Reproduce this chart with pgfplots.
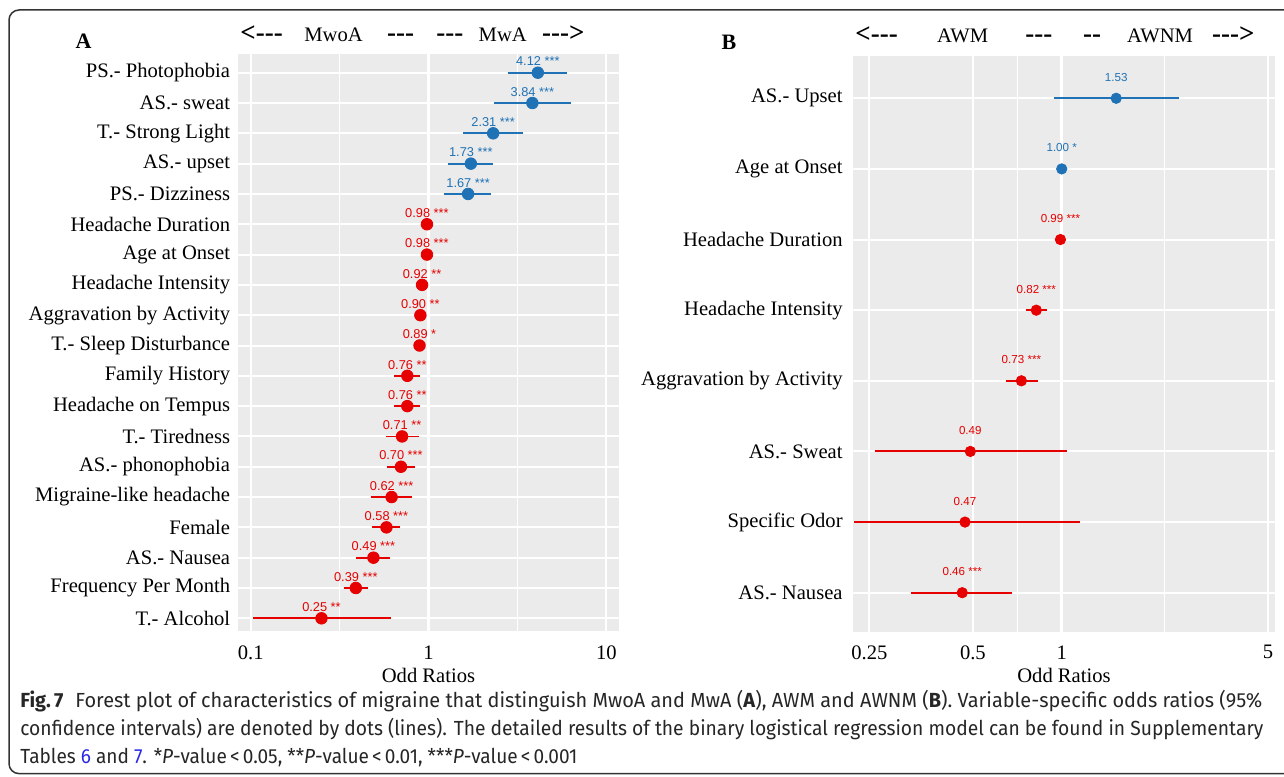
\documentclass[border=0pt]{standalone}
\usepackage{fontspec}
\setmainfont{Liberation Serif}
\setsansfont{Liberation Sans}
\newfontfamily\capfont{Fira Sans}
\usepackage{pgfplots}
\pgfplotsset{compat=1.18}
\usepackage{pgfplotstable}
\usepackage{graphicx}

\definecolor{ggbg}{HTML}{EBEBEB}
\definecolor{orblue}{RGB}{31,114,181}
\definecolor{orred}{RGB}{230,0,0}
\definecolor{linkblue}{RGB}{40,40,230}

\newcommand\tickfont{\fontsize{10.3}{12}\selectfont}
\newcommand\arr{\fontsize{13.5}{14}\selectfont\bfseries}
\newcommand\dsh{-\kern0pt-\kern0pt-}

\newlength\fitw
\newcommand\fitline[2]{\settowidth{\fitw}{#2}\pgfmathsetmacro\fitr{#1/\fitw}\scalebox{\fitr}[1]{#2}}

% panel A: MwoA vs MwA (odds ratio and label)
\pgfplotstableread{
row or lab
19 4.12 {4.12 ***}
18 3.84 {3.84 ***}
17 2.31 {2.31 ***}
16 1.73 {1.73 ***}
15 1.67 {1.67 ***}
}\tabAblue
\pgfplotstableread{
row or lab
14 0.98 {0.98 ***}
13 0.98 {0.98 ***}
12 0.92 {0.92 **}
11 0.90 {0.90 **}
10 0.89 {0.89 *}
9 0.76 {0.76 **}
8 0.76 {0.76 **}
7 0.71 {0.71 **}
6 0.70 {0.70 ***}
5 0.62 {0.62 ***}
4 0.58 {0.58 ***}
3 0.49 {0.49 ***}
2 0.39 {0.39 ***}
1 0.25 {0.25 **}
}\tabAred
% 95% CI segments (lower, upper) per row
\pgfplotstableread{
x y
2.80 19
5.99 19
nan nan
2.33 18
6.31 18
nan nan
1.555 17
3.42 17
nan nan
1.285 16
2.30 16
nan nan
1.23 15
2.24 15
}\ciAblue
\pgfplotstableread{
x y
0.97 14
0.99 14
nan nan
0.97 13
0.99 13
nan nan
0.88 12
0.96 12
nan nan
0.86 11
0.94 11
nan nan
0.83 10
0.96 10
nan nan
0.64 9
0.90 9
nan nan
0.64 8
0.90 8
nan nan
0.575 7
0.886 7
nan nan
0.585 6
0.84 6
nan nan
0.477 5
0.805 5
nan nan
0.482 4
0.695 4
nan nan
0.393 3
0.611 3
nan nan
0.333 2
0.457 2
nan nan
0.103 1
0.619 1
}\ciAred

% panel B: AWM vs AWNM
\pgfplotstableread{
row or lab
8 1.53 {1.53}
7 1.00 {1.00 *}
}\tabBblue
\pgfplotstableread{
row or lab
6 0.99 {0.99 ***}
5 0.82 {0.82 ***}
4 0.73 {0.73 ***}
3 0.49 {0.49}
2 0.47 {0.47}
1 0.46 {0.46 ***}
}\tabBred
\pgfplotstableread{
x y
0.94 8
2.49 8
nan nan
0.995 7
1.005 7
}\ciBblue
\pgfplotstableread{
x y
0.985 6
0.995 6
nan nan
0.755 5
0.894 5
nan nan
0.648 4
0.83 4
nan nan
0.197 2
1.15 2
nan nan
0.308 1
0.679 1
}\ciBred
\pgfplotstableread{
x y
0.233 3
0.49 3
1.04 3
}\ciBsweat

\begin{document}
\begin{tikzpicture}
\path[use as bounding box] (0,0) rectangle (642pt,388pt);

% frame
\draw[line width=0.75pt, rounded corners=5pt, black!80] (4.5pt,1.2pt) rectangle (660pt,383pt);

% panel letters
\node[font=\fontsize{11}{13}\selectfont\bfseries] at (41.75pt,367.5pt) {A};
\node[font=\fontsize{11}{13}\selectfont\bfseries] at (364.5pt,367pt) {B};

% direction headers
\begin{scope}[every node/.style={anchor=base west, inner sep=0pt}]
\node at (120pt,367.15pt) {\arr <\dsh};
\node at (152pt,367.15pt) {\tickfont MwoA};
\node at (193.35pt,367.15pt) {\arr \dsh};
\node at (218pt,367.15pt) {\arr \dsh};
\node at (239.15pt,367.15pt) {\tickfont MwA};
\node at (270.85pt,367.15pt) {\arr \dsh>};
\node at (427.5pt,366.85pt) {\arr <\dsh};
\node at (468.35pt,366.85pt) {\tickfont AWM};
\node at (512.5pt,366.85pt) {\arr \dsh};
\node at (541.35pt,366.85pt) {\arr -\kern0pt-};
\node at (563.35pt,366.85pt) {\tickfont AWNM};
\node at (605.85pt,366.85pt) {\arr \dsh>};
\end{scope}

\begin{axis}[
  at={(119pt,72.65pt)}, anchor=south west,
  scale only axis, width=190.5pt, height=288.35pt,
  xmode=log,
  xmin=0.0848, xmax=11.79, ymin=0.591, ymax=19.617,
  axis background/.style={fill=ggbg},
  axis line style={draw=none},
  major tick length=0pt, minor tick length=0pt,
  grid=both,
  major grid style={white, line width=1pt},
  minor grid style={white, line width=0.5pt},
  xtick={0.1,1,10}, xticklabels={0.1,1,10}, minor xtick={0.31623,3.1623},
  ytick={1,...,19}, minor ytick={},
  yticklabels={T.- Alcohol, Frequency Per Month, AS.- Nausea, Female,
    Migraine-like headache, AS.- phonophobia, T.- Tiredness, Headache on Tempus,
    Family History, T.- Sleep Disturbance, Aggravation by Activity,
    Headache Intensity, Age at Onset, Headache Duration, PS.- Dizziness,
    AS.- upset, T.- Strong Light, AS.- sweat, PS.- Photophobia},
  tick label style={font=\tickfont},
  xticklabel style={inner sep=0pt, anchor=north, yshift=-7.5pt},
  yticklabel style={inner sep=0pt, anchor=east, xshift=-3.75pt},
  xlabel={Odd Ratios},
  xlabel style={at={(axis description cs:0.5,0)}, anchor=center, yshift=-22.2pt, font=\tickfont},
  every node near coord/.append style={anchor=center, yshift=5.6pt, font=\fontsize{6.4}{7}\sffamily},
  unbounded coords=jump,
]
\addplot[white, line width=1.6pt, forget plot] coordinates {(1,0.591) (1,19.617)};
\addplot[orblue, line width=0.9pt, forget plot] table[x=x, y=y] {\ciAblue};
\addplot[orred, line width=0.9pt, forget plot] table[x=x, y=y] {\ciAred};
\addplot[only marks, mark=*, mark size=2.9pt, color=orblue, mark options={fill=orblue, draw=orblue},
  nodes near coords, point meta=explicit symbolic]
  table[x=or, y=row, meta=lab] {\tabAblue};
\addplot[only marks, mark=*, mark size=2.9pt, color=orred, mark options={fill=orred, draw=orred},
  nodes near coords, point meta=explicit symbolic]
  table[x=or, y=row, meta=lab] {\tabAred};
\end{axis}

\begin{axis}[
  at={(426.5pt,72.15pt)}, anchor=south west,
  scale only axis, width=211pt, height=288pt,
  xmode=log,
  xmin=0.1961, xmax=5.285, ymin=0.448, ymax=8.603,
  axis background/.style={fill=ggbg},
  axis line style={draw=none},
  major tick length=0pt, minor tick length=0pt,
  grid=both,
  major grid style={white, line width=1pt},
  minor grid style={white, line width=0.5pt},
  xtick={0.2228,0.5,1,5}, xticklabels={0.25,0.5,1,5}, minor xtick={0.7071,2.2361},
  ytick={1,...,8}, minor ytick={},
  yticklabels={AS.- Nausea, Specific Odor, AS.- Sweat, Aggravation by Activity,
    Headache Intensity, Headache Duration, Age at Onset, AS.- Upset},
  tick label style={font=\tickfont},
  xticklabel style={inner sep=0pt, anchor=north, yshift=-6.7pt},
  yticklabel style={inner sep=0pt, anchor=east, xshift=-5pt},
  xlabel={Odd Ratios},
  xlabel style={at={(axis description cs:0.5,0)}, anchor=center, yshift=-22pt, font=\tickfont},
  every node near coord/.append style={anchor=center, yshift=10.5pt, font=\fontsize{5.8}{7}\sffamily},
  unbounded coords=jump,
]
\addplot[white, line width=1.6pt, forget plot] coordinates {(1,0.448) (1,8.603)};
\addplot[orblue, line width=0.9pt, forget plot] table[x=x, y=y] {\ciBblue};
\addplot[orred, line width=0.9pt, forget plot] table[x=x, y=y] {\ciBred};
\addplot[draw=orred, line width=1pt, line cap=butt, forget plot] table[x=x, y=y] {\ciBsweat};
\addplot[only marks, mark=*, mark size=2.6pt, color=orblue, mark options={fill=orblue, draw=orblue},
  nodes near coords, point meta=explicit symbolic]
  table[x=or, y=row, meta=lab] {\tabBblue};
\addplot[only marks, mark=*, mark size=2.6pt, color=orred, mark options={fill=orred, draw=orred},
  nodes near coords, point meta=explicit symbolic]
  table[x=or, y=row, meta=lab] {\tabBred};
\end{axis}

% caption
\begin{scope}[every node/.style={anchor=base west, inner sep=0pt, text=black!85,
    font=\capfont\fontsize{10.2}{12}\selectfont}]
\node at (10pt,34.35pt) {\fitline{621pt}{\textbf{Fig.\,7}\hspace{0.6em}Forest plot of characteristics of migraine that distinguish MwoA and MwA (\textbf{A}), AWM and AWNM (\textbf{B}). Variable-specific odds ratios (95\%}};
\node at (10pt,20.35pt) {\fitline{621.5pt}{confidence intervals) are denoted by dots (lines). The detailed results of the binary logistical regression model can be found in Supplementary}};
\node at (10pt,6.35pt) {\fitline{278.5pt}{Tables {\color{linkblue}6} and {\color{linkblue}7}. *\textit{P}-value\,<\,0.05, **\textit{P}-value\,<\,0.01, ***\textit{P}-value\,<\,0.001}};
\end{scope}
\end{tikzpicture}
\end{document}
